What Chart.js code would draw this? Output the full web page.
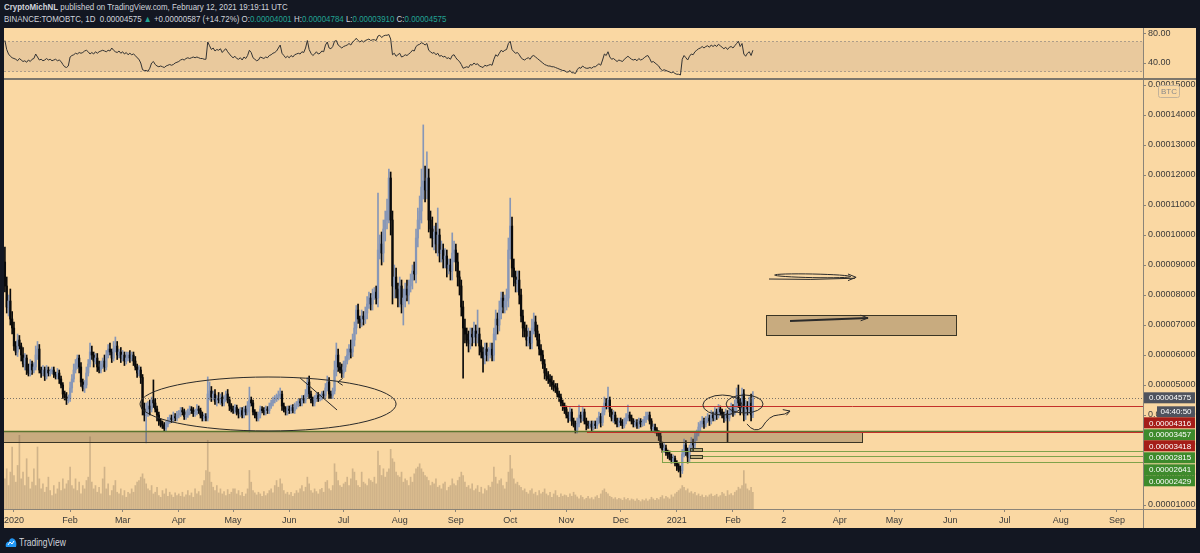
<!DOCTYPE html>
<html><head><meta charset="utf-8">
<script src="https://cdn.jsdelivr.net/npm/chart.js"></script>
<style>
html,body{margin:0;padding:0;background:#131722;width:1200px;height:553px;overflow:hidden;font-family:'Liberation Sans',Arial,sans-serif;}
.hd{position:absolute;left:4px;font-size:9px;color:#d1d4dc;white-space:nowrap;transform:scaleX(0.88);transform-origin:0 0;}
#h1{top:2px}
#h2{top:14px}
.t{color:#22a393}
#rsiWrap{position:absolute;left:4px;top:28px;width:1192px;height:50px;background:#fad8a3}
#sep{position:absolute;left:4px;top:78px;width:1192px;height:2px;background:#7d776c}
#mainWrap{position:absolute;left:4px;top:80px;width:1192px;height:448px;background:#fad8a3}
#ftr{position:absolute;left:5px;top:535px;height:14px;display:flex;align-items:center;color:#d1d4dc;font-size:10px;}
#ftr span{display:inline-block;transform:scaleX(0.85);transform-origin:0 50%;margin-left:2px}
canvas{display:block}
</style></head>
<body>
<div class="hd" id="h1"><b>CryptoMichNL</b> published on TradingView.com, February 12, 2021 19:19:11 UTC</div>
<div class="hd" id="h2">BINANCE:TOMOBTC, 1D&nbsp; 0.00004575 <span class="t">▲</span> +0.00000587 (+14.72%) O:<span class="t">0.00004001</span> H:<span class="t">0.00004784</span> L:<span class="t">0.00003910</span> C:<span class="t">0.00004575</span></div>
<div id="rsiWrap"><canvas id="rsi" width="1192" height="50"></canvas></div>
<div id="sep"></div>
<div id="mainWrap"><canvas id="main" width="1192" height="448"></canvas></div>
<div id="ftr"><svg width="12" height="12" viewBox="0 0 12 12"><path d="M1 11 C0 8 2 5 4 6 C4 3 7 1 9 3 C11 4 12 8 11 11 Z" fill="#2196f3"/><path d="M3 9 L5 6 L7 8 L9 5" stroke="#fff" stroke-width="1" fill="none"/></svg><span>TradingView</span></div>
<script>
// ---------------- DATA (prices in satoshi = 1e-8 BTC) ----------------
const firstDate = '2019-12-27';
const firstOpen = 9100;
const closes = [
8300,7600,7800,7200,6900,
6300,6100,6500,6300,6000,5700,5900,5500,5400,5700,5500,5600,6000,6200,5500,5400,5500,5300,5500,5400,5450,5500,5350,5300,5400,5200,5000,4700,4600,4500,4550,
4900,5200,5500,5700,5900,5600,5100,4900,5000,5400,5700,6100,6000,5800,5900,5600,5500,5700,5800,5600,6000,6200,6100,5900,6200,6300,6000,6100,5900,
6000,5800,5900,6000,5900,6000,5800,5600,5400,5500,5250,4200,4000,4100,4300,4200,4500,4400,4200,4000,3800,3700,3650,3550,3700,3800,3900,3850,3950,3900,4000,
4050,4150,4100,3950,4000,4100,4200,4150,4050,4100,4200,4150,4000,3900,3950,3900,4700,4800,4600,4700,4450,4550,4500,4600,4400,4550,4700,4500,4300,4200,
4150,4250,4100,4050,4150,4000,4200,4100,4300,4500,4400,4100,4000,3900,4000,4200,4150,4100,4200,4150,4300,4400,4500,4550,4600,4650,4700,4300,4200,4100,4200,
4150,4250,4150,4300,4350,4450,4400,4550,4500,4700,5100,4700,4500,4400,4550,4650,4550,4600,4700,4650,4900,5100,4700,4650,4800,5500,6000,5600,5500,5400,
5600,5800,6000,6200,6100,6500,6900,7500,7200,7100,7300,7200,7400,7700,7900,7700,8000,8100,7900,9500,9700,9400,10200,10500,10800,11900,10500,8300,8600,8200,7900,
8300,7700,7900,8200,8000,8300,8500,8800,8700,9900,10500,10800,11600,11800,11500,11900,10500,10200,9900,10100,9700,10000,9400,9500,9200,9300,8900,9000,8800,9400,9500,
9100,8600,8300,7600,6900,6700,6500,6400,6700,6600,6800,6600,6700,6300,6100,5900,6200,6000,6100,6200,6000,6700,7200,7000,7500,7900,7600,7800,7900,9500,
10300,8900,8600,8400,8500,8000,7300,6900,6800,6500,6600,6400,6900,7100,6800,6500,6200,6000,5700,5400,5300,5200,5100,5000,4950,4900,4700,4600,4400,4300,4200,
4000,3900,4100,3800,3700,3500,3700,4000,3900,4100,3800,3700,3650,3700,3600,3700,3650,3800,3950,3750,4100,4400,4300,4500,4100,3900,4000,3800,3700,3800,
3750,3650,3800,3900,4000,3900,3800,3700,3750,3650,3800,3700,3750,3850,3950,4000,3800,3550,3600,3500,3400,3300,3000,2850,2900,2750,2700,2600,2500,2550,2400,
2300,2200,2150,2700,3000,2800,2600,2900,3100,3000,3300,3400,3600,3700,3800,3700,3850,3900,3800,4000,3900,4100,4000,4200,4100,4000,3900,4050,3900,4100,4200,
4100,4300,4600,4400,4200,4700,4000,4300,4200,4400,4001,4575];
const wickUp = [
500,300,200,400,250,
200,150,200,150,100,250,150,100,200,150,100,150,300,250,150,100,150,100,150,100,80,100,100,80,150,100,100,80,100,150,120,
200,150,200,150,100,100,150,100,150,200,150,300,200,100,150,150,200,100,100,200,150,150,200,100,250,300,150,100,150,
150,100,200,100,150,100,100,150,100,150,100,100,200,300,150,200,100,670,150,100,100,80,100,100,100,120,100,100,150,100,120,
100,100,100,100,150,100,100,80,100,100,150,100,80,100,100,100,570,300,150,100,150,100,200,100,150,100,100,150,100,80,
100,100,80,100,100,100,80,100,150,430,100,100,80,100,100,100,80,100,100,80,100,100,100,100,100,150,200,100,100,80,100,
100,80,100,100,100,80,100,100,100,150,150,200,100,100,100,80,100,100,80,100,150,200,150,100,100,300,400,200,150,200,
200,150,200,150,300,200,200,150,200,100,200,150,200,250,200,150,200,150,200,1900,300,400,300,300,400,300,200,300,400,300,200,
300,200,300,200,300,200,200,200,300,300,400,500,600,1870,500,870,300,300,400,200,300,900,200,300,200,250,200,200,200,670,300,
200,300,200,200,200,300,200,300,200,200,300,200,800,200,200,150,200,200,150,200,200,200,300,200,300,200,200,200,300,400,
930,300,300,200,300,300,200,200,200,200,300,200,300,300,200,200,200,150,150,150,150,150,150,200,150,100,150,100,100,100,100,
100,100,150,100,100,100,200,330,100,150,100,100,100,100,100,100,100,100,150,100,150,200,150,430,100,100,150,100,100,100,
100,100,100,150,330,100,100,80,100,100,100,80,100,100,150,100,100,80,100,100,80,80,100,100,150,100,80,100,100,120,80,
80,80,100,150,200,150,100,100,150,100,150,100,150,100,150,100,100,150,100,150,100,150,100,150,100,100,100,150,100,150,200,
150,200,300,400,150,200,150,200,150,200,300,209];
const wickDown = [
200,200,300,200,200,
150,100,150,100,200,100,200,150,100,100,150,100,100,150,100,150,100,150,100,100,100,80,100,100,100,150,100,150,100,150,100,
100,150,100,100,150,200,150,100,150,100,100,100,150,200,100,150,100,100,150,150,100,100,100,150,100,100,150,100,150,
100,150,100,100,150,100,150,100,150,100,200,200,200,930,150,200,100,150,100,200,150,100,100,100,100,100,80,100,100,100,100,
100,100,100,100,100,80,100,100,100,100,100,100,100,100,100,100,100,200,150,100,100,150,100,150,100,100,100,100,150,100,
100,100,100,150,100,100,100,100,100,870,100,100,100,100,100,100,80,100,100,100,100,80,100,100,100,100,100,150,100,100,100,
100,100,80,100,100,80,100,100,100,100,100,150,100,100,100,100,100,80,100,100,100,100,150,100,100,100,200,150,100,150,
150,150,100,150,200,150,200,200,150,200,150,200,150,200,150,200,200,150,200,300,300,400,300,400,300,400,500,600,400,300,300,
300,300,700,300,200,300,200,300,200,300,300,300,400,400,400,300,400,300,300,400,300,400,300,300,300,300,300,200,300,300,300,
300,300,300,300,1670,300,200,300,200,300,200,300,200,300,200,470,200,200,200,200,200,200,200,300,200,300,200,200,300,300,
300,300,300,300,300,300,200,300,200,200,200,200,200,200,200,200,200,200,150,200,150,150,150,150,150,150,100,150,100,150,150,
100,150,100,150,100,100,100,100,150,100,100,200,100,100,150,100,100,100,100,150,100,100,100,100,150,100,150,100,100,100,
100,100,80,100,100,100,100,100,100,100,100,100,80,100,100,100,100,100,100,100,100,150,100,100,100,100,150,100,100,100,100,
150,100,220,100,100,150,200,150,100,200,100,150,100,150,100,150,100,100,150,100,100,100,150,100,100,100,150,100,800,100,100,
150,100,200,150,200,100,200,150,200,150,200,91];
const volume = [
90,120,70,110,185,
100,80,130,220,90,110,70,150,95,60,80,120,70,185,90,60,75,50,65,95,55,40,70,45,60,80,55,90,60,75,85,
125,70,60,90,55,80,45,70,60,85,95,215,80,60,70,50,65,45,90,125,60,75,40,55,70,85,50,45,60,
40,55,35,50,45,60,50,70,80,85,95,105,90,75,60,55,70,45,50,65,40,35,55,45,60,38,50,42,35,48,40,
45,38,50,36,42,55,40,48,35,60,45,52,40,70,85,115,205,110,80,65,55,70,48,60,45,52,40,58,44,50,
60,60,45,55,40,50,38,45,60,115,80,55,48,42,50,45,38,52,40,46,55,60,48,70,85,65,90,75,55,45,50,
42,50,38,46,55,48,60,70,52,65,95,75,55,48,60,52,45,58,62,50,80,85,60,55,70,135,110,85,70,65,
75,80,95,70,90,120,110,85,70,65,110,80,75,70,90,85,80,95,75,173,130,100,120,95,110,120,178,150,140,110,100,
95,110,80,90,85,70,95,80,105,120,125,135,120,110,100,95,85,70,80,75,90,65,70,60,75,80,55,65,70,90,75,
70,85,95,110,100,80,65,70,60,75,55,60,70,50,65,45,60,55,70,65,80,125,95,75,85,90,70,60,80,110,
160,120,90,75,80,70,65,55,60,50,45,55,60,45,50,40,55,45,50,60,45,40,50,35,45,55,40,35,45,38,42,
40,35,45,38,50,42,36,30,40,35,28,32,38,30,34,28,36,40,32,45,55,60,50,45,38,35,30,34,28,32,
30,26,34,28,32,25,30,28,24,30,26,22,28,25,30,24,28,35,30,26,32,28,35,40,30,38,34,30,42,36,45,
50,55,60,70,65,55,60,48,52,45,50,40,45,38,42,35,40,36,42,45,38,40,44,36,40,50,45,38,55,42,46,
40,50,55,65,60,70,115,75,60,55,65,50];
const rsi = [
70,58,52,49,47,
46,45,43,46,44,42,43,41,44,42,45,46,52,48,44,45,43,44,46,44,45,43,44,45,43,44,42,38,35,34,36,
48,50,51,53,52,54,53,54,56,57,55,52,54,52,55,53,55,56,57,56,55,57,56,60,57,55,54,56,53,
55,52,54,51,53,51,52,50,47,45,40,31,30,30,29,33,40,42,38,36,35,36,35,34,36,37,38,37,38,40,41,
42,44,45,44,46,47,46,47,48,47,48,47,46,46,45,45,68,63,58,60,56,58,57,59,54,57,59,55,52,49,
47,49,46,45,47,44,48,46,50,57,54,47,45,43,44,48,47,46,48,47,50,51,53,54,56,60,64,53,50,47,49,
47,50,48,51,52,53,52,55,54,60,70,58,53,50,52,55,52,53,56,55,64,68,60,59,62,69,70,64,62,60,
62,63,64,66,64,68,70,73,70,68,70,68,70,71,72,70,71,71,70,76,77,74,76,77,77,78,72,51,53,49,51,
53,48,49,51,50,52,54,57,56,62,64,65,67,66,64,66,57,55,53,54,51,53,49,50,48,49,46,47,45,50,51,
47,44,42,38,33,34,35,34,38,37,40,38,39,36,35,34,37,36,37,38,37,45,51,49,53,57,55,57,58,66,
69,58,55,53,54,51,47,45,44,46,47,45,49,50,48,46,44,42,40,38,37,36,36,35,35,34,33,32,31,30,30,
28,28,30,27,27,26,31,34,33,36,34,33,33,34,33,35,35,37,39,37,44,52,50,55,48,45,46,44,42,44,
43,42,45,47,49,47,45,44,45,43,46,44,45,47,49,50,46,41,42,40,38,36,32,30,31,30,29,28,27,28,26,
25,25,24,45,50,47,44,49,52,51,55,57,59,60,62,60,62,63,61,64,62,64,62,65,63,61,59,61,58,61,62,
60,63,66,69,62,66,52,49,53,55,50,57];
const tickDates = ['2020-01-01','2020-02-01','2020-03-01','2020-04-01','2020-05-01','2020-06-01','2020-07-01','2020-08-01','2020-09-01','2020-10-01','2020-11-01','2020-12-01','2021-01-01','2021-02-01','2021-03-01','2021-04-01','2021-05-01','2021-06-01','2021-07-01','2021-08-01','2021-09-01'];
const tickLabels = ['2020','Feb','Mar','Apr','May','Jun','Jul','Aug','Sep','Oct','Nov','Dec','2021','Feb','2','Apr','May','Jun','Jul','Aug','Sep'];
const priceTicks = [1000,2000,3000,4000,5000,6000,7000,8000,9000,10000,11000,12000,13000,14000,15000];
const rsiTicks = [40,80];
const markerPrices = [4575,4316,3457,3418,2815,2641,2429];
const markerKinds  = ['last','red','green','red','green','green','green'];
const countdown = '04:40:50';

// ---------------- derived ----------------
const DAY0 = Date.UTC(2020,0,1);
const dayOf = s => { const [a,b,c] = s.split('-').map(Number); return Math.round((Date.UTC(a,b-1,c)-DAY0)/86400000); };
const start = dayOf(firstDate);
const days = closes.map((_,i)=>start+i);
const opens = closes.map((c,i)=> i ? closes[i-1] : firstOpen);
const highs = closes.map((c,i)=> Math.max(opens[i],c)+wickUp[i]);
const lows  = closes.map((c,i)=> Math.min(opens[i],c)-wickDown[i]);
const UP = '#8797b7', DOWN = '#0a0a0a';
const cCol = closes.map((c,i)=> c>=opens[i] ? UP : DOWN);
const tickDays = tickDates.map(dayOf);
const xMin = -5.5, xMax = 623.4;
const lastPrice = closes[closes.length-1];
const sats = v => (v/1e8).toFixed(8);

Chart.defaults.font.family = "'Liberation Sans', Arial, sans-serif";
Chart.defaults.font.size = 9;
Chart.defaults.color = '#3a3a3a';

const AX = '#8b8478';

// ---------- RSI ----------
const rsiBand = {
  id:'rsiBand',
  beforeDatasetsDraw(chart){
    const {ctx, chartArea:a, scales:{y}} = chart;
    const y70 = Math.round(y.getPixelForValue(70))+0.5, y30 = Math.round(y.getPixelForValue(30))+0.5;
    ctx.save();
    ctx.fillStyle = '#e9c99d';
    ctx.fillRect(a.left, y70, a.width, y30-y70);
    ctx.strokeStyle = 'rgba(150,140,128,0.75)'; ctx.lineWidth = 1; ctx.setLineDash([2,2]);
    [y70,y30].forEach(v=>{ctx.beginPath();ctx.moveTo(a.left,v);ctx.lineTo(a.right,v);ctx.stroke();});
    ctx.restore();
  }
};
new Chart(document.getElementById('rsi'), {
  type:'line',
  data:{datasets:[{data: days.map((d,i)=>({x:d,y:rsi[i]})), borderColor:'#333', borderWidth:1, pointRadius:0, tension:0}]},
  options:{
    responsive:false, animation:false, devicePixelRatio:1, layout:{padding:0},
    plugins:{legend:{display:false}, tooltip:{enabled:false}},
    scales:{
      x:{type:'linear', display:false, min:xMin, max:xMax, offset:false},
      y:{position:'right', min:20, max:86.7,
         afterBuildTicks: s=>{ s.ticks = rsiTicks.map(v=>({value:v})); },
         ticks:{callback:v=>v.toFixed(2), padding:2, color:'#3a3a3a'},
         grid:{drawOnChartArea:false, drawTicks:true, tickLength:3, color:AX},
         border:{display:true, color:AX},
         afterFit: s=>{ s.width = 53; s.paddingTop = 0; s.paddingBottom = 0; }}
    }
  },
  plugins:[rsiBand]
});

// ---------- Main ----------
const drawings = {
  id:'drawings',
  afterDatasetsDraw(chart){
    const {ctx, chartArea:a, scales:{x,y}} = chart;
    const X = v=>x.getPixelForValue(v), Y = v=>y.getPixelForValue(v);
    const sn = v=>Math.round(v)+0.5;
    ctx.save();
    ctx.beginPath(); ctx.rect(a.left,a.top,a.width,a.height); ctx.clip();
    const hline = (d0,p,col,w)=>{ ctx.strokeStyle=col; ctx.lineWidth=w; const yy=sn(Y(p)); ctx.beginPath(); ctx.moveTo(d0===null?a.left:X(d0),yy); ctx.lineTo(a.right,yy); ctx.stroke(); };
    const zone = (d0,d1,p0,p1)=>{ const x0=d0===null?a.left:sn(X(d0)), x1=sn(X(d1)), y0=sn(Y(p0)), y1=sn(Y(p1));
      ctx.fillStyle='rgba(100,78,55,0.33)'; ctx.fillRect(x0,y0,x1-x0,y1-y0);
      ctx.strokeStyle='#3a3524'; ctx.lineWidth=1; ctx.strokeRect(x0,y0,x1-x0,y1-y0); };
    ctx.setLineDash([1,2]); hline(null,lastPrice,'rgba(90,90,90,0.8)',1); ctx.setLineDash([]);
    zone(-20,468,3457,3110);
    hline(null,3457,'#5b7530',1.5);
    zone(415,520,7323,6677);
    hline(302.6,4316,'#c4302a',1);
    hline(316.4,3418,'#c4302a',1);
    hline(357.8,2815,'#7fa24a',1);
    hline(380,2641,'#7fa24a',1);
    hline(357.8,2429,'#7fa24a',1);
    ctx.strokeStyle='#7fa24a'; ctx.beginPath(); ctx.moveTo(sn(X(357.8)),Y(2815)); ctx.lineTo(sn(X(357.8)),Y(2429)); ctx.stroke();
    ctx.fillStyle='rgba(110,120,70,0.45)'; ctx.strokeStyle='#3a3a26'; ctx.lineWidth=1;
    [[2910,2790],[2680,2570]].forEach(([p0,p1])=>{ const x0=sn(X(373.3)),x1=sn(X(380)),y0=sn(Y(p0)),y1=sn(Y(p1)); ctx.fillRect(x0,y0,x1-x0,y1-y0); ctx.strokeRect(x0,y0,x1-x0,y1-y0); });
    ctx.strokeStyle='#2a2a2a'; ctx.lineWidth=1;
    const ell=(cd,cp,rd,rp)=>{ ctx.beginPath(); ctx.ellipse(X(cd),Y(cp),Math.abs(X(cd+rd)-X(cd)),Math.abs(Y(cp+rp)-Y(cp)),0,0,Math.PI*2); ctx.stroke(); };
    ell(140.3,4367,70.7,900);
    ell(391.2,4333,10.8,333);
    ell(403.4,4367,10.2,300);
    const path=(pts,w)=>{ ctx.lineWidth=w; ctx.beginPath(); pts.forEach(([d,p],i)=> i?ctx.lineTo(X(d),Y(p)):ctx.moveTo(X(d),Y(p))); ctx.stroke(); };
    path([[158,5233],[178.4,4167]],1);
    path([[181.5,5220],[178.8,5100],[181.5,4990]],1);
    path([[416.9,8533],[440,8520],[464.4,8560]],1);
    ctx.beginPath(); ctx.ellipse(X(441),Y(8640),Math.abs(X(462)-X(441)),Math.abs(Y(8700)-Y(8640)),0.02,0,Math.PI*2); ctx.stroke();
    path([[460.5,8700],[465,8590],[460.5,8480]],1);
    path([[428.5,7133],[450,7180],[471.6,7233]],2);
    path([[467.5,7330],[471.6,7233],[467.5,7140]],1);
    ctx.lineWidth=1; ctx.beginPath();
    ctx.moveTo(X(404.7),Y(3700));
    ctx.quadraticCurveTo(X(409),Y(3380),X(413),Y(3580));
    ctx.quadraticCurveTo(X(417),Y(4000),X(422),Y(4000));
    ctx.quadraticCurveTo(X(426),Y(4000),X(428.5),Y(4133));
    ctx.stroke();
    path([[424.5,4180],[428.5,4133],[426.5,3990]],1);
    ctx.restore();
  }
};

const markers = {
  id:'markers',
  afterDraw(chart){
    const {ctx, chartArea:a, scales:{y}} = chart;
    const L = a.right, R = chart.width-1, h = 11.6;
    ctx.save();
    ctx.strokeStyle = AX; ctx.lineWidth = 1;
    ctx.beginPath(); ctx.moveTo(L+0.5, a.bottom); ctx.lineTo(L+0.5, chart.height); ctx.stroke();
    ctx.beginPath(); ctx.moveTo(L, a.bottom+0.5); ctx.lineTo(chart.width, a.bottom+0.5); ctx.stroke();
    ctx.fillStyle = '#fad8a3'; ctx.strokeStyle = '#c2b29a';
    ctx.beginPath(); ctx.roundRect(L+15.5, 5.5, 21, 12, 2); ctx.fill(); ctx.stroke();
    ctx.fillStyle = '#8a8a8a'; ctx.font = "8px 'Liberation Sans', Arial"; ctx.textAlign='center'; ctx.textBaseline='middle';
    ctx.fillText('BTC', L+26, 12);
    ctx.font = "8px 'Liberation Sans', Arial"; ctx.textBaseline = 'middle';
    let prev = -1e9;
    markerPrices.forEach((p,i)=>{
      const kind = markerKinds[i];
      let cy = Math.max(y.getPixelForValue(p), prev + h);
      const bg = kind==='last' ? '#4f535e' : kind==='red' ? '#a51d18' : '#3e8a2c';
      ctx.fillStyle = bg; ctx.fillRect(L+1, Math.round(cy-h/2)+0.3, R-L-1, h-0.6);
      ctx.fillStyle = '#ffffff'; ctx.textAlign='left'; ctx.fillText(sats(p), L+6, cy+0.5);
      prev = cy;
      if (kind==='last') {
        const cy2 = cy + 13.6;
        ctx.fillStyle = '#4f535e'; ctx.fillRect(L+14, Math.round(cy2-h/2)+0.3, R-L-14, h-0.6);
        ctx.fillStyle = '#ffffff'; ctx.textAlign='center'; ctx.fillText(countdown, (L+14+R)/2, cy2+0.5);
        prev = cy2;
      }
    });
    ctx.restore();
  }
};

new Chart(document.getElementById('main'), {
  type:'bar',
  data:{datasets:[
    {label:'Volume', data: days.map((d,i)=>({x:d,y:volume[i]})), yAxisID:'yv', backgroundColor:'rgba(120,102,84,0.32)', barThickness:1, order:3},
    {label:'Wick', data: days.map((d,i)=>({x:d,y:[lows[i],highs[i]]})), yAxisID:'y', backgroundColor:cCol, barThickness:1, order:2},
    {label:'Body', data: days.map((d,i)=>({x:d,y:[Math.min(opens[i],closes[i]),Math.max(opens[i],closes[i])]})), yAxisID:'y', backgroundColor:cCol, barThickness:1.6, minBarLength:1, order:1}
  ]},
  options:{
    responsive:false, animation:false, devicePixelRatio:1, layout:{padding:0},
    plugins:{legend:{display:false}, tooltip:{enabled:false}},
    datasets:{bar:{grouped:false, borderWidth:0}},
    scales:{
      x:{type:'linear', min:xMin, max:xMax, offset:false,
         afterBuildTicks: s=>{ s.ticks = tickDays.map(v=>({value:v})); },
         ticks:{autoSkip:false, maxRotation:0, minRotation:0, padding:3, color:'#3a3a3a', callback:v=>{ const k=tickDays.indexOf(v); return k<0?'':tickLabels[k]; }},
         grid:{display:true, drawOnChartArea:false, drawTicks:true, tickLength:3, color:AX, offset:false},
         border:{display:true, color:AX},
         afterFit: s=>{ s.height = 19; s.paddingLeft = 0; s.paddingRight = 0; }},
      y:{position:'right', min:867, max:15167,
         afterBuildTicks: s=>{ s.ticks = priceTicks.map(v=>({value:v})); },
         ticks:{padding:2, color:'#3a3a3a', callback:v=>sats(v)},
         grid:{drawOnChartArea:false, drawTicks:true, tickLength:3, color:AX},
         border:{display:true, color:AX},
         afterFit: s=>{ s.width = 53; s.paddingTop = 0; s.paddingBottom = 0; }},
      yv:{display:false, min:0, max:1280}
    }
  },
  plugins:[drawings, markers]
});
</script>
</body></html>
